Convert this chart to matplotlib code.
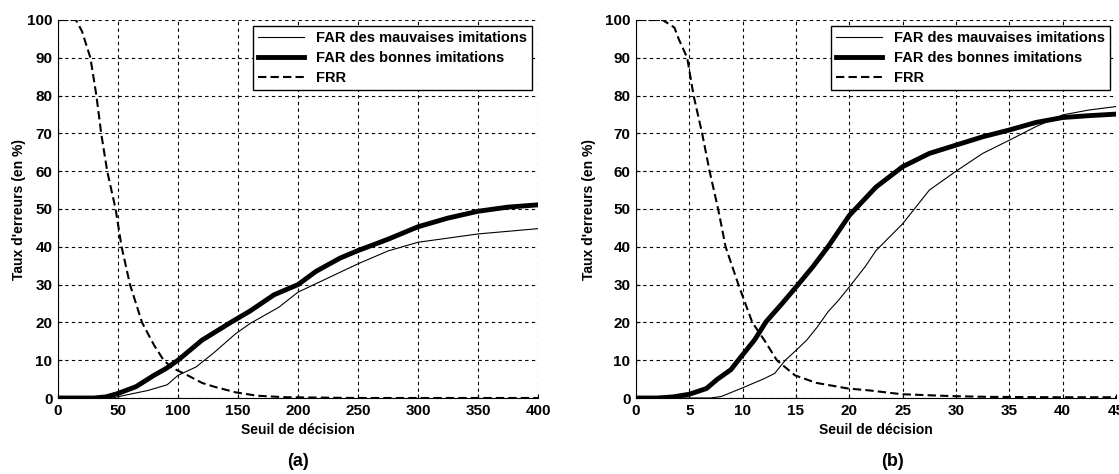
import matplotlib
matplotlib.use("Agg")
import matplotlib.pyplot as plt

plt.rcParams['font.family'] = ['Liberation Sans Narrow', 'Liberation Sans', 'DejaVu Sans']
plt.rcParams['font.weight'] = 'bold'

# ---- (a) seuil 0..400
a_frr_x = [0, 15, 20, 27, 32, 36, 41, 48, 53, 60, 70, 80, 88, 95, 108, 120, 130, 148, 166, 190, 220, 250, 300, 400]
a_frr_y = [100, 100, 97, 90, 80, 70, 60, 50, 40, 30, 20, 14, 10, 8, 6, 4, 3, 1.5, 0.6, 0.2, 0.1, 0, 0, 0]

a_bon_x = [0, 30, 40, 50, 65, 80, 90, 100, 120, 145, 160, 180, 200, 215, 235, 250, 275, 300, 325, 350, 375, 400]
a_bon_y = [0, 0, 0.3, 1.2, 3, 6, 7.8, 10, 15.3, 20.2, 23, 27.3, 30, 33.5, 37, 39, 42, 45.3, 47.6, 49.4, 50.5, 51.1]

a_mau_x = [0, 45, 60, 75, 91, 100, 115, 130, 148, 160, 184, 200, 220, 250, 275, 300, 325, 350, 375, 400]
a_mau_y = [0, 0, 1, 2, 3.5, 6, 8.2, 12, 17, 19.7, 24, 28, 31, 35.5, 38.9, 41.2, 42.3, 43.4, 44.1, 44.8]

# ---- (b) seuil 0..45
b_frr_x = [0, 2.5, 3.6, 4.0, 4.8, 5.4, 6.2, 6.9, 7.7, 8.4, 9.6, 10.9, 12.1, 13.2, 14.9, 16.9, 19.9, 21.9, 24.9, 29.6, 33, 39.6, 45]
b_frr_y = [100, 100, 98, 95, 90, 80, 70, 60, 50, 40, 30, 20, 15, 10, 6, 4, 2.5, 2, 1, 0.5, 0.3, 0.2, 0.2]

b_bon_x = [0, 2, 3.5, 5, 6.6, 7.6, 8.9, 9.7, 11.1, 12.2, 13.7, 15.2, 16.6, 18.0, 20, 22.5, 25, 27.5, 30, 32.5, 35, 37.5, 40, 42.5, 45]
b_bon_y = [0, 0, 0.3, 1, 2.5, 4.9, 7.5, 10.4, 15.3, 20.2, 25, 30, 34.8, 40, 48.3, 55.8, 61.2, 64.7, 66.9, 69.1, 70.9, 72.9, 74.2, 74.7, 75.1]

b_mau_x = [0, 7, 8, 10, 12, 13, 14, 15, 16, 17, 18, 19, 20, 21.5, 22.5, 25, 27.5, 30, 32.5, 35, 37.5, 40, 42.5, 45]
b_mau_y = [0, 0, 0.4, 2.7, 5.1, 6.5, 10, 12.6, 15.3, 18.8, 22.8, 25.9, 29.4, 34.8, 39, 46.1, 55, 60, 64.7, 68.2, 71.8, 74.9, 76.2, 77.1]

labels = ["FAR des mauvaises imitations", "FAR des bonnes imitations", "FRR"]

fig = plt.figure(figsize=(11.19, 4.74), dpi=100)
ax1 = fig.add_axes([58 / 1119, 76 / 474, 480 / 1119, 378 / 474])
ax2 = fig.add_axes([636 / 1119, 76 / 474, 480 / 1119, 378 / 474])


def tracer(ax, mx, my, bx, by, fx, fy, xmax, xstep, ylab_x):
    ax.plot(mx, my, color='k', lw=0.8, label=labels[0])
    ax.plot(bx, by, color='k', lw=3.5, label=labels[1])
    ax.plot(fx, fy, color='k', lw=1.5, ls=(0, (4, 2)), label=labels[2])
    ax.set_xlim(0, xmax)
    ax.set_ylim(0, 100)
    ax.set_xticks(range(0, xmax + 1, xstep))
    ax.set_yticks(range(0, 101, 10))
    ax.grid(True, color='k', lw=0.8, ls=(0, (3, 3)))
    ax.spines['top'].set_visible(False)
    ax.spines['right'].set_visible(False)
    ax.tick_params(direction='in', length=3, labelsize=11, pad=4)
    ax.set_xlabel("Seuil de décision", fontsize=10, fontweight='bold')
    ax.set_ylabel("Taux d'erreurs (en %)", fontsize=10, fontweight='bold')
    ax.yaxis.set_label_coords(ylab_x, 0.5)
    ax.xaxis.set_label_coords(0.5, -0.066)
    leg = ax.legend(loc='upper right', fancybox=False, edgecolor='k', framealpha=1,
                    fontsize=10.5, handlelength=3.2, borderaxespad=0.4,
                    borderpad=0.35, labelspacing=0.42, handletextpad=0.8)
    leg.get_frame().set_linewidth(1.0)


tracer(ax1, a_mau_x, a_mau_y, a_bon_x, a_bon_y, a_frr_x, a_frr_y, 400, 50, -0.067)
tracer(ax2, b_mau_x, b_mau_y, b_bon_x, b_bon_y, b_frr_x, b_frr_y, 45, 5, -0.083)

fig.text(298 / 1119, 1 - 462 / 474, "(a)", ha='center', va='center', fontsize=13, fontweight='bold')
fig.text(892 / 1119, 1 - 462 / 474, "(b)", ha='center', va='center', fontsize=13, fontweight='bold')

fig.savefig("out.png", dpi=100)
